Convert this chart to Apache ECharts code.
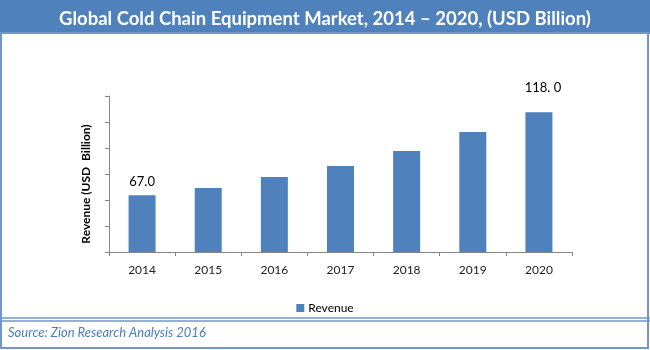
<!DOCTYPE html>
<html>
<head>
<meta charset="utf-8">
<script src="https://cdn.jsdelivr.net/npm/echarts@6/dist/echarts.min.js"></script>
<style>
    html, body { margin: 0; padding: 0; background: #fff; }
    #chart { width: 650px; height: 350px; }
</style>
</head>
<body>
<div id="chart"></div>
<script>
// 年份与收入 (USD Billion)
var years = ['2014', '2015', '2016', '2017', '2018', '2019', '2020'];
var revenue = [67.0, 71.4, 78.1, 84.9, 94.1, 105.8, 118.0];
// only the first and last bar carry a label
var barLabels = ['67.0', '', '', '', '', '', '118. 0'];

var blue = '#4f81bd';

var barData = [];
for (var i = 0; i < revenue.length; i++) {
    var item = { value: revenue[i] };
    if (barLabels[i] !== '') {
        item.label = {
            show: true,
            position: 'top',
            distance: i == revenue.length - 1 ? 18 : 7,
            offset: i == revenue.length - 1 ? [4, 0] : [0, 0],
            formatter: barLabels[i]
        };
    }
    barData.push(item);
}

var myChart = echarts.init(document.getElementById('chart'));

var option = {
    animation: false,
    title: {
        text: 'Global Cold Chain Equipment Market, 2014 \u2013 2020, (USD Billion)',
        left: 'center',
        top: 5,
        textStyle: {
            color: '#fff',
            fontFamily: 'Lato',
            fontWeight: 'bold',
            fontSize: 18.5
        }
    },
    graphic: [
        // header band
        { type: 'rect', z: -1, shape: { x: 0, y: 0, width: 650, height: 34 }, style: { fill: blue } },
        // outer frame
        { type: 'rect', shape: { x: 1, y: 33, width: 647, height: 315 }, style: { fill: 'none', stroke: '#6f97cb', lineWidth: 2 } },
        // double separator above source
        { type: 'line', shape: { x1: 0, y1: 318, x2: 650, y2: 318 }, style: { stroke: '#6f97cb', lineWidth: 1.5 } },
        { type: 'line', shape: { x1: 0, y1: 321, x2: 650, y2: 321 }, style: { stroke: '#6f97cb', lineWidth: 1.5 } },
        {
            type: 'text', left: 8, top: 326,
            style: {
                text: 'Source: Zion Research Analysis 2016',
                fill: '#4a7ebb',
                font: 'italic 13px Lato'
            }
        }
    ],
    legend: {
        data: ['Revenue'],
        top: 297,
        left: 'center',
        itemWidth: 8,
        itemHeight: 8,
        itemGap: 4,
        icon: 'rect',
        textStyle: { color: '#000', fontSize: 12, fontFamily: 'Lato', padding: [0, 0, 0, -1] }
    },
    grid: {
        left: 109,
        right: 78,
        top: 96,
        bottom: 98
    },
    xAxis: {
        type: 'category',
        data: years,
        axisLine: { lineStyle: { color: '#868686' } },
        axisTick: { show: true, length: 4, lineStyle: { color: '#868686' } },
        axisLabel: { color: '#222', fontSize: 12, fontFamily: 'Lato', margin: 12 }
    },
    yAxis: {
        type: 'value',
        min: 32,
        max: 128,
        interval: 16,
        name: 'Revenue (USD  Billion)',
        nameLocation: 'middle',
        nameGap: 17,
        nameTextStyle: {
            color: '#000',
            fontWeight: 'bold',
            fontSize: 12,
            fontFamily: 'Lato',
            padding: [0, 0, 0, -20]
        },
        axisLine: { show: true, lineStyle: { color: '#868686' } },
        axisTick: { show: true, length: 4, lineStyle: { color: '#868686' } },
        axisLabel: { show: false },
        splitLine: { show: false }
    },
    series: [{
        name: 'Revenue',
        type: 'bar',
        barWidth: 27,
        itemStyle: { color: blue },
        label: {
            color: '#000',
            fontSize: 13,
            fontFamily: 'Lato'
        },
        data: barData
    }]
};

myChart.setOption(option);
</script>
</body>
</html>
